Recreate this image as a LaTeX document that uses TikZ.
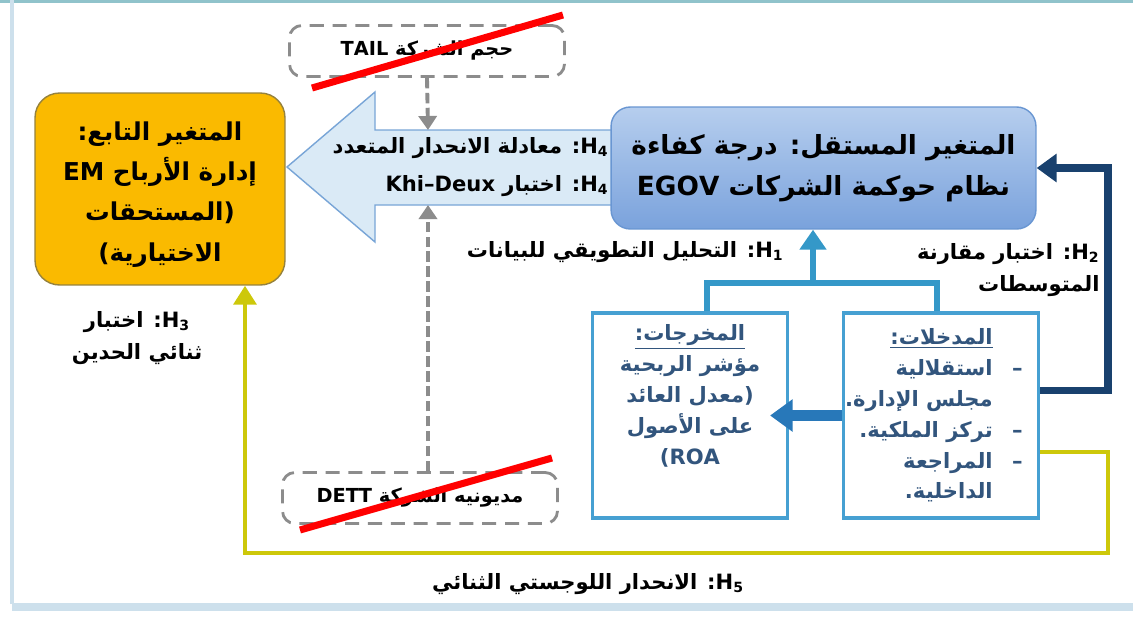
\documentclass[tikz,border=0pt]{standalone}
\usepackage{fontspec}
\setmainfont{DejaVu Sans}
\newfontfamily\arabicfont[Script=Arabic]{DejaVu Sans}
\TeXXeTstate=1
\usetikzlibrary{positioning,arrows.meta,calc}

\definecolor{emgold}{RGB}{250,186,0}
\definecolor{emedge}{RGB}{150,130,60}
\definecolor{h4fill}{RGB}{218,234,246}
\definecolor{h4edge}{RGB}{120,165,215}
\definecolor{egovtop}{RGB}{182,206,238}
\definecolor{egovbot}{RGB}{122,162,220}
\definecolor{egovedge}{RGB}{105,150,210}
\definecolor{dealink}{RGB}{52,152,200}
\definecolor{deaedge}{RGB}{70,160,210}
\definecolor{roablue}{RGB}{40,120,185}
\definecolor{navylink}{RGB}{25,65,110}
\definecolor{olivelink}{RGB}{205,200,10}
\definecolor{ctrlgray}{RGB}{140,140,140}
\definecolor{boxtext}{RGB}{50,85,125}
\definecolor{framelight}{RGB}{205,224,236}

\newcommand{\artxt}[1]{\beginR #1\endR}
\newcommand{\lat}[1]{\beginL #1\endL}
\newcommand{\hyp}[1]{\lat{H\textsubscript{#1}}}

\begin{document}
\begin{tikzpicture}[x=0.02cm, y=-0.02cm,
    mainvar/.style={rounded corners=14pt, align=center, inner sep=0pt,
        font=\arabicfont\bfseries\fontsize{15}{23}\selectfont},
    depvar/.style={mainvar, draw=emedge, line width=0.8pt, fill=emgold,
        font=\arabicfont\bfseries\fontsize{14}{22.8}\selectfont,
        minimum width=5cm, minimum height=3.84cm},
    indvar/.style={mainvar, draw=egovedge, line width=0.8pt, top color=egovtop,
        bottom color=egovbot, rounded corners=11pt, minimum width=8.5cm, minimum height=2.44cm},
    deabox/.style={draw=deaedge, line width=1.8pt, fill=white,
        minimum width=3.9cm, minimum height=4.1cm},
    deatext/.style={align=center, inner sep=0pt, text=boxtext,
        font=\arabicfont\bfseries\fontsize{12}{17.6}\selectfont},
    ctrlbox/.style={draw=ctrlgray, line width=1.6pt, dash pattern=on 8pt off 5pt,
        rounded corners=7pt, minimum width=5.5cm, minimum height=1.02cm,
        font=\arabicfont\bfseries\fontsize{11}{13}\selectfont},
    hyplabel/.style={inner sep=0pt, font=\arabicfont\bfseries\fontsize{12}{18.5}\selectfont},
    crossout/.style={red, line width=4pt},
    ctrlarrow/.style={-{Triangle[width=0.36cm,length=0.28cm]}, ctrlgray,
        line width=2.2pt, dash pattern=on 6pt off 2.5pt},
    dealine/.style={dealink, line width=3.2pt},
    deaarrow/.style={dealine, -{Triangle[width=0.52cm,length=0.4cm]}},
    roaarrow/.style={-{Triangle[width=0.62cm,length=0.45cm]}, roablue, line width=6pt},
    navyarrow/.style={-{Triangle[width=0.55cm,length=0.4cm]}, navylink, line width=4pt},
    olivearrow/.style={-{Triangle[width=0.45cm,length=0.38cm]}, olivelink, line width=2.8pt}
]
\useasboundingbox (0,0) rectangle (1133,626);
\fill[white] (0,0) rectangle (1133,626);

% ---- slide frame ----
\fill[framelight!70!teal] (0,0) rectangle (1133,3);
\draw[framelight, line width=2pt] (12,0) -- (12,604);
\fill[framelight] (12,603) rectangle (1133,611);

% ---- H4 arrow ----
\coordinate (shafttop) at (428,130);
\coordinate (shaftbot) at (428,205);
\draw[draw=h4edge, fill=h4fill, line width=0.8pt]
    (287,167) -- (375,92) -- (375,130) -- (640,130) -- (640,205)
    -- (375,205) -- (375,242) -- cycle;

% ---- main variables ----
\node[depvar] (em) at (160,189)
    {\artxt{\rule{0pt}{17pt}المتغير التابع:}\\\artxt{إدارة الأرباح EM}\\
     \artxt{(المستحقات}\\\artxt{الاختيارية)}};
\node[indvar] (egov) at (823.5,168)
    {\artxt{المتغير المستقل: درجة كفاءة}\\\artxt{نظام حوكمة الشركات EGOV}};

% ---- DEA boxes ----
\node[deabox] (outs) at (690,415.5) {};
\node[deatext, below=0.25cm of outs.north] (outstxt)
    {\underline{المخرجات:}\\\artxt{مؤشر الربحية}\\\artxt{(معدل العائد}\\
     \artxt{على الأصول}\\\lat{{\rmfamily\bfseries(}ROA}};
\node[deabox] (ins) at (941,415.5) {};
\node[deatext, align=right, below left=0.33cm and 0.34cm of ins.north east] (instxt)
    {\artxt{\makebox[0.6cm]{}\underline{المدخلات:}}\\
     \artxt{\makebox[0.6cm][l]{–}استقلالية}\\
     \artxt{\makebox[0.6cm]{}مجلس الإدارة.}\\
     \artxt{\makebox[0.6cm][l]{–}تركز الملكية.}\\
     \artxt{\makebox[0.6cm][l]{–}المراجعة}\\
     \artxt{\makebox[0.6cm]{}الداخلية.}};

% ---- control variables ----
\node[ctrlbox] (tail) at (427,51) {\artxt{حجم الشركة TAIL}};
\node[ctrlbox] (dett) at (420,498) {\artxt{مديونيه الشركة DETT}};
\draw[crossout] (312,88) -- (563,15);
\draw[crossout] (300,530) -- (552,458);

% ---- connectors ----
\draw[ctrlarrow] (tail.south) -- (shafttop);
\draw[ctrlarrow] (dett.north -| shaftbot) -- (shaftbot);

\coordinate (h1join) at (813,283);
\draw[dealine] ([xshift=0.34cm]outs.north) |- (h1join) -| ([xshift=-0.08cm]ins.north);
\draw[deaarrow] (h1join) -- (egov.south -| h1join);

\draw[roaarrow] (ins.west) -- ([xshift=-0.38cm]outs.east);

\coordinate (h2turn) at (1108,168);
\draw[navyarrow] ([yshift=0.5cm]ins.east) -| (h2turn) -- (egov.east);

\coordinate (h5turn) at (1108,553);
\draw[olivearrow] ([yshift=-0.73cm]ins.east) -| (h5turn) -| ([xshift=1.7cm]em.south);

% ---- hypothesis labels ----
\node[hyplabel, anchor=east] (h4reg) at (609,148)
    {\artxt{\hyp{4}: معادلة الانحدار المتعدد}};
\node[hyplabel, anchor=east] (h4chi) at (609,186)
    {\artxt{\hyp{4}: اختبار Khi–Deux}};
\node[hyplabel, anchor=east] (h1lbl) at (784,252)
    {\artxt{\hyp{1}: التحليل التطويقي للبيانات}};
\node[hyplabel, align=right, anchor=east] (h2lbl) at (1100,270)
    {\artxt{\hyp{2}: اختبار مقارنة}\\\artxt{المتوسطات}};
\node[hyplabel, align=center] (h3lbl) at (137,338)
    {\artxt{\hyp{3}: اختبار}\\\artxt{ثنائي الحدين}};
\node[hyplabel] (h5lbl) at (588,584)
    {\artxt{\hyp{5}: الانحدار اللوجستي الثنائي}};
\end{tikzpicture}
\end{document}
